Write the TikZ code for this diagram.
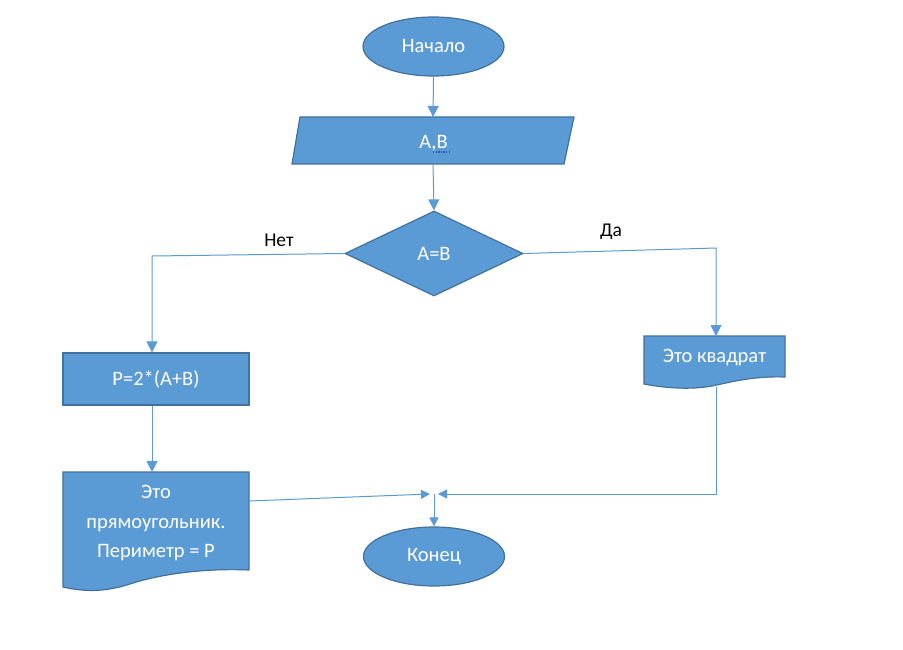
\documentclass[tikz,border=0pt]{standalone}
\usepackage{fontspec}
\setmainfont{Carlito}
\usetikzlibrary{shapes.geometric,arrows.meta,calc}
\definecolor{bfill}{HTML}{5B9BD5}
\definecolor{bdraw}{HTML}{41719C}
\definecolor{bline}{HTML}{5B9BD5}
\definecolor{uline}{HTML}{2F55C0}
\begin{document}
\begin{tikzpicture}[x=1pt,y=-1pt,
  txt/.style={text=white,font=\fontsize{20.5}{29.5}\selectfont},
  lbl/.style={text=black,font=\fontsize{19.5}{23}\selectfont},
  shp/.style={fill=bfill,draw=bdraw,line width=1.2pt},
  term/.style={shp,ellipse,minimum width=141pt,minimum height=59pt,inner sep=0pt,txt},
  conn/.style={draw=bline,line width=1pt},
  arr/.style={conn,-{Triangle[length=11pt,width=11pt]}},
  sarr/.style={conn,-{Triangle[length=9pt,width=9pt]}}
]
\useasboundingbox (0,0) rectangle (903,650);
\fill[white] (0,0) rectangle (903,650);

% start
\node[term] (start) at (433.5,46.5) {Начало};

% input parallelogram
\path[shp] (300,117) -- (574,117) -- (564,164) -- (292,164) -- cycle;
\node[txt] (inp) at (433.5,143) {A,B};
\coordinate (inpTop) at (433,117);
\coordinate (inpBot) at (433,164);
\draw[uline,line width=1.3pt,dash pattern=on 1.3pt off 1.3pt] (433,152) -- (449,152);

% decision
\node[shp,diamond,minimum width=178pt,minimum height=85pt,aspect=2.1,inner sep=0pt,txt] (dec) at (434,253.5) {A=B};

% process
\node[shp,rectangle,minimum width=186pt,minimum height=52pt,inner sep=0pt,txt] (proc) at (156,379) {P=2*(A+B)};

% left document
\path[shp] (63,472) -- (249,472) -- (249,570)
  .. controls (205,568) and (160,574) .. (130,584)
  .. controls (105,592) and (85,592) .. (63,587) -- cycle;
\node[txt,align=center] (docL) at (156,523) {Это\\прямоугольник.\\Периметр = P};
\coordinate (docLtop) at (152,472);
\coordinate (docLout) at (249,501);

% right document
\path[shp] (644,336) -- (785,336) -- (785,377)
  .. controls (755,376) and (735,381) .. (712,386)
  .. controls (690,390) and (665,388) .. (644,384) -- cycle;
\node[txt] (docR) at (714.5,358) {Это квадрат};
\coordinate (docRtop) at (716,336);
\coordinate (docRbot) at (716,387);

% end
\node[term] (stop) at (434,556.5) {Конец};

% labels
\node[lbl] (no) at (279,240) {Нет};
\node[lbl] (yes) at (611,232) {Да};

% junction coordinates
\coordinate (nL) at (152,256);
\coordinate (yR) at (716,248);
\coordinate (J) at (434,494);
\coordinate (Jl) at (430,494);
\coordinate (Jr) at (438,494);

% connectors
\draw[arr] (start.south) -- (inpTop);
\draw[arr] (inpBot) -- (dec.north);
\draw[arr] (dec.west) -- (nL) -- (nL |- proc.north);
\draw[arr] (dec.east) -- (yR) -- (docRtop);
\draw[arr] (nL |- proc.south) -- (docLtop);
\draw[sarr] (docLout) -- (Jl);
\draw[sarr] (docRbot) -- (yR |- J) -- (Jr);
\draw[sarr] (J) -- (stop.north);
\end{tikzpicture}
\end{document}
